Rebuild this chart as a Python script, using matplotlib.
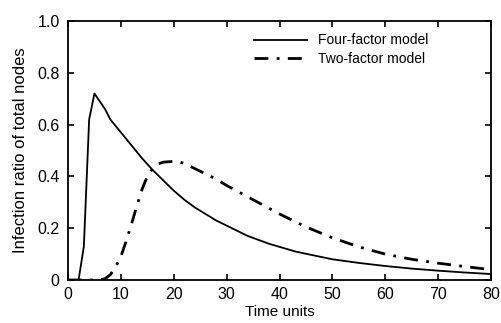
import matplotlib
matplotlib.use("Agg")
import matplotlib.pyplot as plt

plt.rcParams['font.family'] = ['Liberation Sans', 'DejaVu Sans']

# Modelo de cuatro factores
t_four = [0, 1, 2, 3, 4, 5, 6, 7, 8, 9, 10, 12, 14, 16, 18, 20, 22, 24, 26, 28,
          30, 32, 34, 36, 38, 40, 43, 46, 50, 55, 60, 65, 70, 75, 80]
y_four = [0.0, 0.0, 0.0, 0.13, 0.62, 0.72, 0.69, 0.66, 0.62, 0.595, 0.57, 0.52,
          0.47, 0.425, 0.385, 0.345, 0.31, 0.28, 0.255, 0.23, 0.21, 0.19, 0.17,
          0.155, 0.14, 0.128, 0.11, 0.097, 0.08, 0.066, 0.054, 0.044, 0.036,
          0.029, 0.023]

# Modelo de dos factores
t_two = [0, 2, 4, 6, 7, 8, 9, 10, 11, 12, 13, 14, 15, 16, 17, 18, 20, 21, 22, 24,
         26, 28, 30, 35, 40, 45, 50, 55, 60, 65, 70, 75, 80]
y_two = [0.0, 0.0, 0.0, 0.0, 0.005, 0.02, 0.05, 0.09, 0.15, 0.215, 0.285, 0.35,
         0.40, 0.43, 0.448, 0.455, 0.458, 0.456, 0.45, 0.43, 0.41, 0.39, 0.365,
         0.31, 0.255, 0.205, 0.163, 0.128, 0.1, 0.08, 0.065, 0.052, 0.04]

xticks = [0, 10, 20, 30, 40, 50, 60, 70, 80]
yticks = [0, 0.2, 0.4, 0.6, 0.8, 1.0]
yticklabels = ['0', '0.2', '0.4', '0.6', '0.8', '1.0']

fig = plt.figure(figsize=(5.01, 3.23), dpi=100)
ax = fig.add_axes([68 / 501, 43 / 323, 423 / 501, 259 / 323])

ax.plot(t_four, y_four, color='black', linewidth=1.3, label='Four-factor model')
ax.plot(t_two, y_two, color='black', linewidth=2.0,
        linestyle=(0, (5, 3, 1, 3)), label='Two-factor model')

ax.set_xlim(0, 80)
ax.set_ylim(0, 1.0)
ax.set_xticks(xticks)
ax.set_yticks(yticks)
ax.set_yticklabels(yticklabels)
ax.tick_params(direction='in', top=True, right=True, length=4, width=1.2,
               labelsize=11.5)
ax.tick_params(axis='x', pad=5)
ax.tick_params(axis='y', pad=6)
for s in ax.spines.values():
    s.set_linewidth(1.3)

ax.set_xlabel('Time units', fontsize=11, labelpad=2)
ax.set_ylabel('Infection ratio of total nodes', fontsize=12, labelpad=7)

ax.legend(loc='upper left', bbox_to_anchor=(0.41, 1.0), frameon=False,
          fontsize=10, handlelength=3.8, handletextpad=0.8, labelspacing=0.3)

fig.savefig('out.png', dpi=100)
